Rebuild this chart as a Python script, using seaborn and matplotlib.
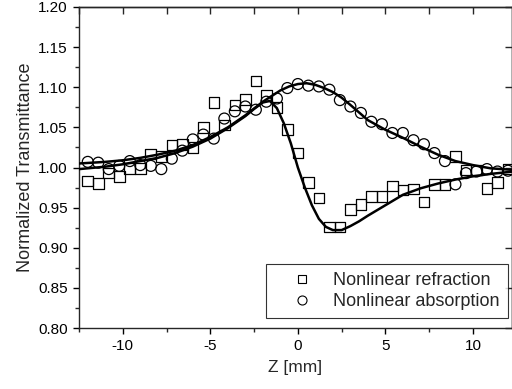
import numpy as np
import pandas as pd
import seaborn as sns
import matplotlib.pyplot as plt
from matplotlib.lines import Line2D
from matplotlib.ticker import MultipleLocator, FormatStrFormatter

# measured points (Z in mm, normalized transmittance)
z_pts = [-12.0, -11.4, -10.8, -10.2, -9.6, -9.0, -8.4, -7.8, -7.2, -6.6, -6.0, -5.4,
         -4.8, -4.2, -3.6, -3.0, -2.4, -1.8, -1.2, -0.6, 0.0, 0.6, 1.2, 1.8, 2.4, 3.0,
         3.6, 4.2, 4.8, 5.4, 6.0, 6.6, 7.2, 7.8, 8.4, 9.0, 9.6, 10.2, 10.8, 11.4, 12.0]
refraction = [0.983, 0.980, 0.993, 0.989, 0.999, 0.999, 1.017, 1.014, 1.028, 1.029, 1.025, 1.050,
              1.081, 1.053, 1.078, 1.085, 1.108, 1.090, 1.075, 1.047, 1.018, 0.981, 0.962, 0.926, 0.926, 0.948,
              0.954, 0.964, 0.964, 0.977, 0.972, 0.973, 0.957, 0.979, 0.979, 1.014, 0.997, 0.997, 0.974, 0.981, 0.998]
absorption = [1.007, 1.006, 0.998, 1.002, 1.008, 1.003, 1.002, 0.998, 1.011, 1.021, 1.035, 1.041,
              1.036, 1.061, 1.070, 1.076, 1.072, 1.082, 1.086, 1.099, 1.104, 1.102, 1.101, 1.097, 1.084, 1.076,
              1.068, 1.057, 1.054, 1.043, 1.043, 1.034, 1.029, 1.018, 1.008, 0.979, 0.993, 0.995, 0.998, 0.995, 0.996]

# fitted curves
z_fit_abs = [-12.5, -11, -10, -9, -8, -7, -6, -5, -4, -3, -2, -1.5, -1, -0.5, 0, 0.5,
             1, 1.5, 2, 2.5, 3, 4, 5, 6, 7, 8, 9, 10, 11, 12.3]
fit_abs = [1.005, 1.007, 1.009, 1.012, 1.016, 1.021, 1.028, 1.038, 1.050, 1.065, 1.082, 1.089, 1.096, 1.101, 1.104, 1.105,
           1.103, 1.099, 1.094, 1.087, 1.078, 1.059, 1.047, 1.037, 1.026, 1.016, 1.008, 1.003, 0.999, 0.997]
z_fit_ref = [-12.5, -11, -10, -9, -8, -7, -6, -5, -4, -3, -2.5, -2, -1.6, -1.2, -0.8, -0.4,
             0, 0.4, 0.8, 1.2, 1.6, 2.0, 2.5, 3.0, 3.5, 4.0, 5, 6, 7, 8, 9, 10, 11, 12.3]
fit_ref = [0.998, 1.001, 1.004, 1.008, 1.012, 1.018, 1.026, 1.036, 1.049, 1.064, 1.073, 1.081, 1.083, 1.074, 1.055, 1.030,
           1.000, 0.975, 0.953, 0.936, 0.926, 0.922, 0.922, 0.927, 0.933, 0.940, 0.953, 0.966, 0.974, 0.980, 0.985, 0.989, 0.992, 0.995]

sns.set_style('ticks')
plt.rcParams['font.family'] = ['Liberation Sans', 'DejaVu Sans']
plt.rcParams['axes.linewidth'] = 1.0
plt.rcParams['axes.unicode_minus'] = False

fig = plt.figure(figsize=(5.12, 3.89), dpi=100)
ax = fig.add_axes([79 / 512, 61 / 389, 433 / 512, 321 / 389])

pts = pd.DataFrame({'z': z_pts, 'ref': refraction, 'abs': absorption})
sns.scatterplot(data=pts, x='z', y='ref', marker='s', s=58, fc='none', ec='black', linewidth=0.9, ax=ax, zorder=2)
sns.scatterplot(data=pts, x='z', y='abs', marker='o', s=62, fc='none', ec='black', linewidth=0.9, ax=ax, zorder=2)
sns.lineplot(x=z_fit_ref, y=fit_ref, color='black', linewidth=1.8, ax=ax, zorder=3)
sns.lineplot(x=z_fit_abs, y=fit_abs, color='black', linewidth=1.8, ax=ax, zorder=3)

ax.set_xlim(-12.5, 12.23)
ax.set_ylim(0.80, 1.20)
ax.xaxis.set_major_locator(MultipleLocator(5))
ax.xaxis.set_minor_locator(MultipleLocator(2.5))
ax.yaxis.set_major_locator(MultipleLocator(0.05))
ax.yaxis.set_minor_locator(MultipleLocator(0.025))
ax.yaxis.set_major_formatter(FormatStrFormatter('%.2f'))
ax.tick_params(which='major', direction='out', length=4.5, width=1, labelsize=11, colors='black')
ax.tick_params(which='minor', direction='out', length=3, width=1)

top = ax.secondary_xaxis('top')
top.xaxis.set_major_locator(MultipleLocator(2.5))
top.tick_params(direction='in', length=5, width=1, labeltop=False)
right = ax.secondary_yaxis('right')
right.yaxis.set_major_locator(MultipleLocator(0.05))
right.tick_params(direction='in', length=5, width=1, labelright=False)

ax.set_xlabel('Z [mm]', fontsize=12.5, labelpad=5)
ax.set_ylabel('Normalized Transmittance', fontsize=13, labelpad=3)

handles = [Line2D([], [], ls='none', marker='s', ms=6, mfc='none', mec='black', mew=0.8),
           Line2D([], [], ls='none', marker='o', ms=6.5, mfc='none', mec='black', mew=0.8)]
leg = ax.legend(handles, ['Nonlinear refraction', 'Nonlinear absorption'], loc='lower right',
                bbox_to_anchor=(1 - 4 / 433, 10 / 321), borderaxespad=0, fontsize=13, frameon=True,
                fancybox=False, edgecolor='black', handlelength=3.1, handletextpad=0.2,
                borderpad=0.45, labelspacing=0.2)
leg.get_frame().set_linewidth(0.8)

fig.savefig('out.png', dpi=100)
